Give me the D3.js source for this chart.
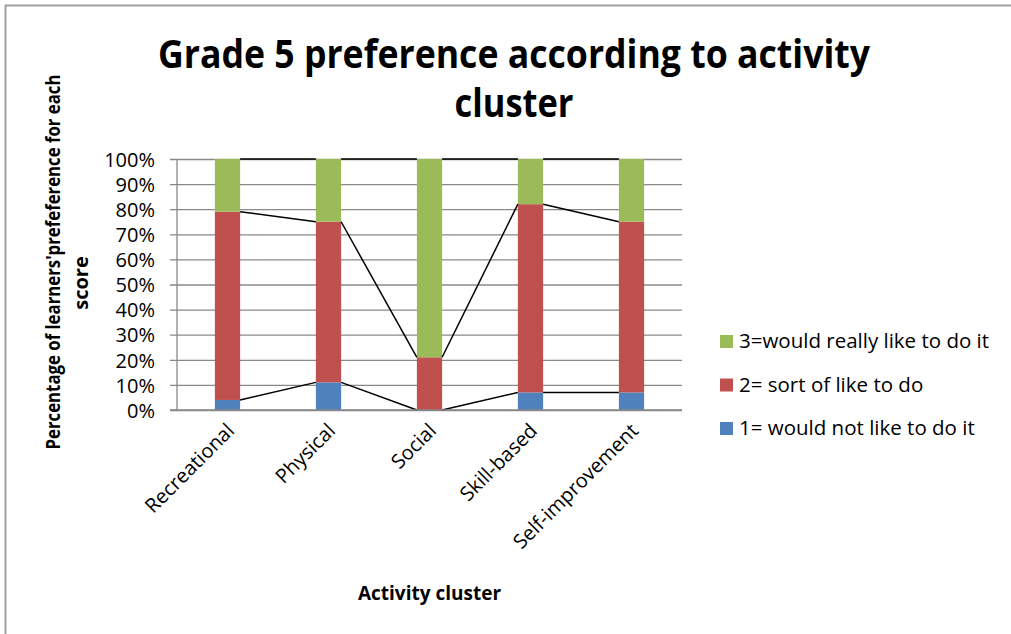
<!DOCTYPE html>
<html>
<head>
<meta charset="utf-8">
<script src="https://cdn.jsdelivr.net/npm/d3@7"></script>
<style>
	body { margin: 0; background: #fff; }
	text { font-family: "Open Sans", "Noto Sans", sans-serif; fill: #000; }
</style>
</head>
<body>
<div id="chart"></div>
<script>

// categories and values (percent of learners per score)
var categories = ["Recreational", "Physical", "Social", "Skill-based", "Self-improvement"];
var score1 = [4, 11, 0, 7, 7];      // 1= would not like to do it
var score2 = [75, 64, 21, 75, 68];  // 2= sort of like to do
var score3 = [21, 25, 79, 18, 25];  // 3=would really like to do it
var yTicks = [0, 10, 20, 30, 40, 50, 60, 70, 80, 90, 100];

var seriesNames = ["1= would not like to do it", "2= sort of like to do", "3=would really like to do it"];
var colors = ["#4F81BD", "#C0504D", "#9BBB59"];

var W = 1011, H = 634;
var margin = {top: 159, left: 177, right: 329, bottom: 224};
var width = W - margin.left - margin.right;
var height = H - margin.top - margin.bottom;

var svg = d3.select("#chart").append("svg")
	.attr("width", W)
	.attr("height", H);

// outer chart border
svg.append("rect")
	.attr("x", 5.5).attr("y", 5.5)
	.attr("width", W + 20).attr("height", H + 20)
	.attr("fill", "#fff")
	.attr("stroke", "#a0a0a0")
	.attr("stroke-width", 2);

// title
var title = svg.append("text")
	.attr("text-anchor", "middle")
	.style("font-weight", "bold")
	.style("font-size", "40px");
title.append("tspan").attr("x", 514).attr("y", 68)
	.attr("textLength", 712).attr("lengthAdjust", "spacingAndGlyphs")
	.text("Grade 5 preference according to activity");
title.append("tspan").attr("x", 514).attr("y", 117)
	.attr("textLength", 119).attr("lengthAdjust", "spacingAndGlyphs")
	.text("cluster");

var g = svg.append("g")
	.attr("transform", "translate(" + margin.left + "," + margin.top + ")");

var x = d3.scaleBand().domain(categories).range([0, width]);
var y = d3.scaleLinear().domain([0, 100]).range([height, 0]);

// stack the data
var rows = categories.map(function(c, i) {
	return {cat: c, s1: score1[i], s2: score2[i], s3: score3[i]};
});
var stack = d3.stack().keys(["s1", "s2", "s3"]);
var layers = stack(rows);

// gridlines + y axis
var yAxis = d3.axisLeft(y)
	.tickValues(yTicks)
	.tickSize(-width - 7)
	.tickFormat(function(d) { return d + "%"; });

var yG = g.append("g")
	.attr("class", "y axis")
	.attr("transform", "translate(" + (-7) + ",0)")
	.call(yAxis);
yG.select(".domain").remove();
yG.selectAll("line").attr("stroke", "#898989").attr("stroke-width", 1.3);
yG.selectAll("text")
	.attr("x", -15)
	.style("font-size", "20px")
	.attr("dy", "0.36em");

// left axis line
g.append("line")
	.attr("x1", 0).attr("x2", 0)
	.attr("y1", 0).attr("y2", height)
	.attr("stroke", "#898989").attr("stroke-width", 1.3);

// bars
var barW = x.bandwidth() * 0.25;
g.selectAll(".layer")
	.data(layers)
	.enter().append("g")
	.attr("class", "layer")
	.attr("fill", function(d, i) { return colors[i]; })
	.selectAll("rect")
	.data(function(d) { return d; })
	.enter().append("rect")
	.attr("x", function(d) { return x(d.data.cat) + (x.bandwidth() - barW) / 2; })
	.attr("y", function(d) { return y(d[1]); })
	.attr("width", barW)
	.attr("height", function(d) { return y(d[0]) - y(d[1]); });

// series lines between bars
layers.forEach(function(layer) {
	for (var i = 0; i < layer.length - 1; i++) {
		var a = layer[i], b = layer[i + 1];
		g.append("line")
			.attr("x1", x(a.data.cat) + (x.bandwidth() + barW) / 2)
			.attr("y1", y(a[1]))
			.attr("x2", x(b.data.cat) + (x.bandwidth() - barW) / 2)
			.attr("y2", y(b[1]))
			.attr("stroke", "#000")
			.attr("stroke-width", 1.5);
	}
});

// x axis line
g.append("line")
	.attr("x1", -7).attr("x2", width)
	.attr("y1", height).attr("y2", height)
	.attr("stroke", "#898989").attr("stroke-width", 1.3);

// x labels, rotated
g.selectAll(".xlabel")
	.data(categories)
	.enter().append("text")
	.attr("class", "xlabel")
	.attr("text-anchor", "end")
	.style("font-size", "20px")
	.attr("transform", function(d) {
		return "translate(" + (x(d) + x.bandwidth() / 2 + 8) + "," + (height + 22) + ")rotate(-45)";
	})
	.text(function(d) { return d; });

// x title
svg.append("text")
	.attr("text-anchor", "middle")
	.attr("x", margin.left + width / 2)
	.attr("y", 600)
	.style("font-weight", "bold")
	.style("font-size", "19px")
	.text("Activity cluster");

// y title
var yt = svg.append("text")
	.attr("text-anchor", "middle")
	.attr("transform", "rotate(-90)")
	.style("font-weight", "bold")
	.style("font-size", "20px");
yt.append("tspan").attr("x", -262).attr("y", 60)
	.attr("textLength", 375).attr("lengthAdjust", "spacingAndGlyphs")
	.text("Percentage of learners'prefeference for each");
yt.append("tspan").attr("x", -283).attr("y", 88)
	.text("score");

// legend
var legend = svg.append("g")
	.attr("transform", "translate(720,341)")
	.selectAll("g")
	.data([2, 1, 0])
	.enter().append("g")
	.attr("transform", function(d, i) { return "translate(0," + i * 43.5 + ")"; });
legend.append("rect")
	.attr("x", 0).attr("y", -6)
	.attr("width", 13).attr("height", 13)
	.attr("fill", function(d) { return colors[d]; });
legend.append("text")
	.attr("x", 19).attr("y", 0)
	.attr("dy", "0.36em")
	.style("font-size", "20.5px")
	.text(function(d) { return seriesNames[d]; });

</script>
</body>
</html>
